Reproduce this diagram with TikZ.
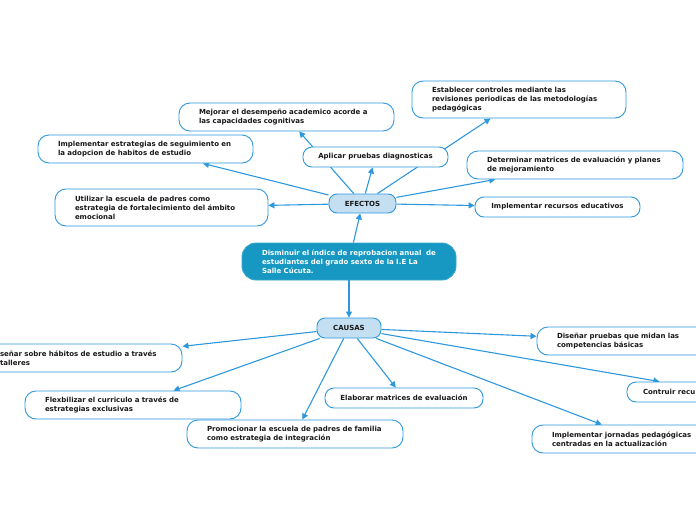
\documentclass[tikz,border=0pt]{standalone}
\usepackage{fontspec}
\setmainfont{DejaVu Sans}
\usetikzlibrary{arrows.meta,backgrounds}
\definecolor{lineblue}{RGB}{45,152,222}
\definecolor{centfill}{RGB}{22,152,194}
\definecolor{catfill}{RGB}{196,222,242}
\definecolor{txt}{RGB}{25,25,25}
\newcommand{\ml}[1]{\mbox{#1}}
\begin{document}
\begin{tikzpicture}[x=1pt,y=-1pt,
  base/.style={draw=lineblue, line width=0.9pt, font=\fontsize{7}{9}\selectfont\bfseries, inner ysep=0pt},
  leaf/.style={base, fill=white, text=txt, rounded corners=11pt, align=left, inner xsep=20pt},
  small/.style={base, fill=white, text=txt, rounded corners=9pt, align=center, inner xsep=0pt},
  cat/.style={base, fill=catfill, text=txt, rounded corners=8pt, align=center, inner xsep=0pt},
  core/.style={base, fill=centfill, draw=centfill!85!white, text=white, rounded corners=14pt, align=left, inner xsep=20pt},
  arr/.style={draw=lineblue, line width=1.1pt, -{Triangle[length=6pt,width=6pt]}}
]
\useasboundingbox (0,0) rectangle (696,520);

% central
\node[core, text width=174pt, minimum height=37pt] (cen) at (349,261.5)
  {\ml{Disminuir el índice de reprobacion anual~ de}\\\ml{estudiantes del grado sexto de la I.E La}\\\ml{Salle Cúcuta.}};
\node[cat, minimum width=67pt, minimum height=19pt] (efe) at (362.5,203.5) {EFECTOS};
\node[cat, minimum width=64pt, minimum height=20pt] (cau) at (349,328) {CAUSAS};

% effects
\node[leaf, text width=175pt, minimum height=28pt] (mej) at (286.5,117)
  {\ml{Mejorar el desempeño academico acorde a}\\\ml{las capacidades cognitivas}};
\node[leaf, text width=175pt, minimum height=28pt] (seg) at (145.5,149)
  {\ml{Implementar estrategias de seguimiento en}\\\ml{la adopcion de habitos de estudio}};
\node[leaf, text width=173pt, minimum height=37pt] (uti) at (161.5,207.5)
  {\ml{Utilizar la escuela de padres como}\\\ml{estrategia de fortalecimiento del ámbito}\\\ml{emocional}};
\node[small, minimum width=145pt, minimum height=20pt] (apl) at (375.5,157) {Aplicar pruebas diagnosticas};
\node[leaf, text width=174pt, minimum height=37pt] (est) at (519,99.5)
  {\ml{Establecer controles mediante las}\\\ml{revisiones periodicas de las metodologías}\\\ml{pedagógicas}};
\node[leaf, text width=176pt, minimum height=28pt] (det) at (575,165)
  {\ml{Determinar matrices de evaluación y planes}\\\ml{de mejoramiento}};
\node[small, minimum width=165pt, minimum height=20pt] (rec) at (557.5,207) {Implementar recursos educativos};

% causes
\node[leaf, inner xsep=30pt, text width=152pt, minimum height=28pt] (dsh) at (76,358)
  {\ml{señar sobre hábitos de estudio a través}\\\ml{talleres}};
\node[leaf, text width=176pt, minimum height=28pt] (fle) at (133,405)
  {\ml{Flexbilizar el curriculo a través de}\\\ml{estrategias exclusivas}};
\node[leaf, text width=176pt, minimum height=28pt] (pro) at (295,434)
  {\ml{Promocionar la escuela de padres de familia}\\\ml{como estrategia de integración}};
\node[small, minimum width=158pt, minimum height=20pt] (ela) at (404,398) {Elaborar matrices de evaluación};
\node[leaf, text width=175pt, minimum height=28pt] (dpr) at (644.5,341)
  {\ml{Diseñar pruebas que midan las}\\\ml{competencias básicas}};
\node[leaf, text width=175pt, minimum height=28pt] (jor) at (639.5,439)
  {\ml{Implementar jornadas pedagógicas}\\\ml{centradas en la actualización}};
\node[leaf, rounded corners=9pt, inner xsep=16pt, text width=154pt, minimum height=20pt] (con) at (720,392)
  {\ml{Contruir recu}};

\begin{scope}[on background layer]
  \draw[arr] (cen) -- (efe);
  \draw[arr] (cen) -- (cau);
  \draw[arr] (efe) -- (mej);
  \draw[arr] (efe) -- (seg);
  \draw[arr] (efe) -- (uti);
  \draw[arr] (efe) -- (apl);
  \draw[arr] (efe) -- (est);
  \draw[arr] (efe) -- (det);
  \draw[arr] (efe) -- (rec);
  \draw[arr] (cau) -- (dsh);
  \draw[arr] (cau) -- (fle);
  \draw[arr] (cau) -- (pro);
  \draw[arr] (cau) -- (ela);
  \draw[arr] (cau) -- (dpr);
  \draw[arr] (cau) -- (con);
  \draw[arr] (cau) -- (jor);
\end{scope}
\end{tikzpicture}
\end{document}
